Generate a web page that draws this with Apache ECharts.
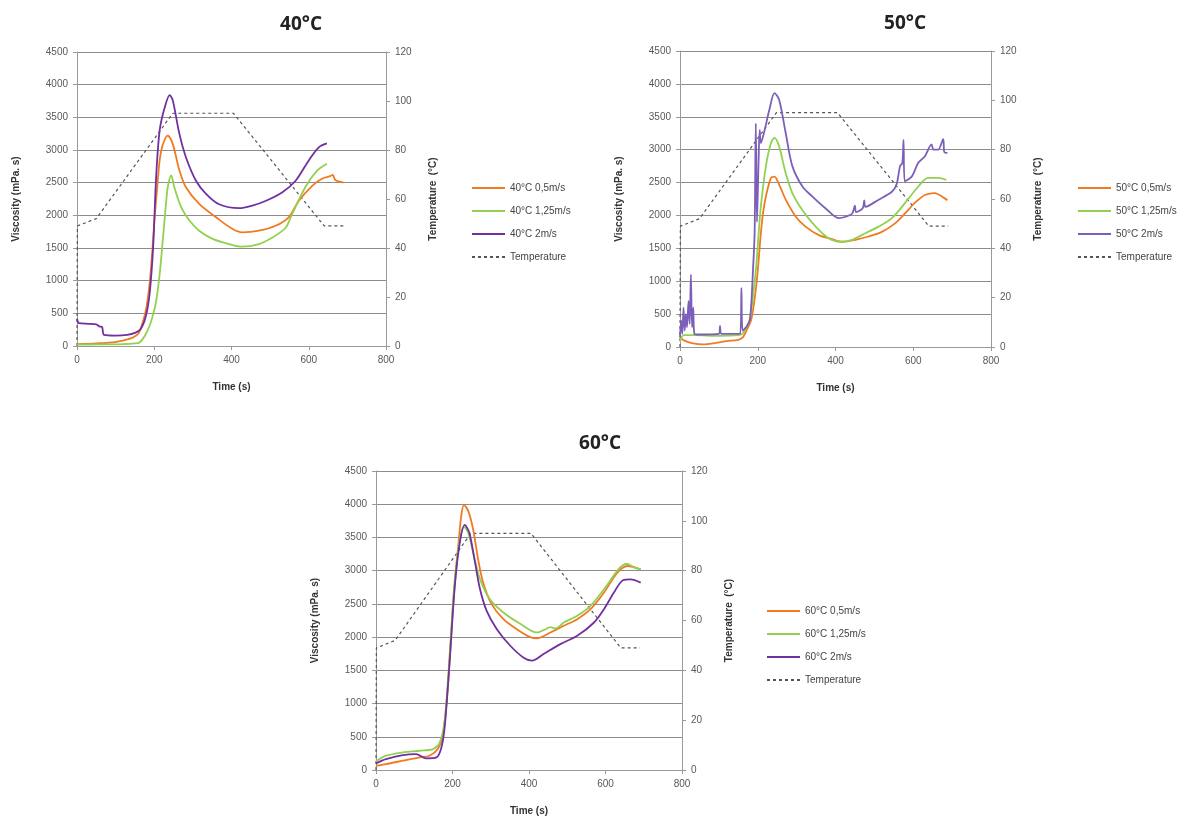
<!DOCTYPE html>
<html><head><meta charset="utf-8">
<script src="https://cdn.jsdelivr.net/npm/echarts@6/dist/echarts.min.js"></script>
<style>html,body{margin:0;padding:0;background:#fff}#c{width:1200px;height:823px}</style>
</head><body><div id="c"></div>
<script>
// ---- data: [time (s), value] ----
const temperatureProfile = [[0,0],[1,49],[50,52],[248,95],[405,95],[640,49],[690,49]];

const v40_05 = [[0,30],[50,40],[100,60],[130,100],[145,130],[160,200],[171,380],[180,600],[188,950],[195,1450],[201,1970],[208,2450],[214,2840],[222,3080],[235,3220],[248,3090],[265,2690],[282,2430],[317,2170],[360,1970],[403,1790],[428,1740],[471,1765],[514,1840],[548,1970],[574,2220],[609,2450],[634,2560],[655,2600],[662,2620],[669,2540],[690,2500]];
const v40_125 = [[0,20],[60,25],[120,30],[150,40],[162,55],[175,150],[188,310],[197,480],[205,690],[214,1100],[222,1610],[230,2150],[235,2430],[244,2610],[252,2430],[270,2120],[291,1920],[317,1760],[351,1640],[394,1560],[428,1520],[471,1560],[506,1660],[540,1810],[557,2020],[591,2430],[621,2680],[647,2790]];
const v40_2 = [[0,420],[5,350],[30,340],[50,330],[58,300],[65,290],[70,170],[100,160],[130,170],[150,200],[165,260],[178,450],[188,800],[197,1500],[205,2600],[214,3300],[227,3650],[240,3840],[248,3760],[265,3250],[282,2890],[308,2530],[334,2330],[368,2170],[420,2110],[454,2150],[488,2220],[531,2350],[566,2530],[600,2840],[626,3040],[647,3100]];

const v50_05 = [[0,150],[10,100],[30,60],[60,40],[90,60],[120,90],[150,110],[162,150],[175,300],[183,410],[190,650],[196,920],[202,1300],[208,1730],[214,2050],[221,2290],[234,2570],[243,2590],[255,2470],[272,2240],[298,1980],[323,1830],[357,1700],[391,1640],[417,1600],[451,1630],[485,1680],[519,1750],[553,1880],[579,2030],[604,2190],[630,2310],[655,2340],[681,2260],[688,2230]];
const v50_125 = [[0,80],[10,180],[40,180],[100,170],[150,180],[162,210],[179,410],[188,780],[196,1220],[202,1700],[208,2140],[221,2750],[234,3100],[243,3180],[255,3050],[272,2640],[289,2340],[315,2080],[349,1830],[383,1650],[413,1600],[443,1630],[477,1730],[511,1830],[545,1960],[579,2190],[613,2440],[638,2570],[664,2570],[685,2540]];
const v50_2 = [[0,150],[3,400],[6,200],[9,600],[12,250],[15,500],[18,300],[22,700],[25,350],[28,1100],[31,300],[34,600],[37,200],[45,190],[100,200],[103,320],[106,200],[155,200],[158,900],[161,250],[170,300],[180,420],[188,1200],[192,1750],[195,3400],[198,1900],[202,2800],[205,3300],[208,3100],[217,3280],[230,3610],[243,3860],[255,3760],[272,3250],[289,2750],[315,2440],[340,2290],[374,2110],[408,1960],[426,1980],[443,2030],[450,2150],[453,2050],[470,2110],[474,2230],[477,2130],[511,2240],[545,2360],[557,2470],[566,2750],[572,2800],[575,3150],[578,2520],[596,2590],[613,2800],[630,2900],[647,3080],[652,3000],[664,3000],[677,3160],[680,2960],[688,2950]];

const v60_05 = [[0,65],[26,90],[70,140],[114,190],[140,215],[162,320],[175,520],[188,1270],[202,2520],[215,3370],[223,3830],[230,3990],[241,3900],[254,3620],[267,3170],[280,2820],[302,2500],[333,2270],[368,2120],[403,2000],[421,1980],[456,2070],[491,2170],[526,2270],[561,2420],[596,2670],[631,2970],[657,3070],[692,3020]];
const v60_125 = [[0,130],[26,215],[70,265],[114,290],[149,315],[167,420],[180,770],[193,1770],[206,2870],[219,3470],[230,3660],[241,3570],[254,3270],[272,2870],[298,2570],[333,2370],[377,2200],[421,2070],[440,2110],[456,2150],[470,2130],[491,2220],[526,2320],[561,2470],[596,2720],[631,3000],[645,3080],[657,3100],[675,3050],[692,3020]];
const v60_2 = [[0,100],[26,165],[70,225],[105,240],[131,175],[158,190],[171,340],[180,670],[193,1670],[206,2770],[219,3420],[232,3690],[244,3570],[259,3120],[272,2720],[289,2400],[316,2120],[351,1870],[386,1690],[408,1645],[438,1745],[482,1895],[526,2020],[570,2220],[596,2420],[622,2670],[644,2850],[666,2870],[692,2820]];

const titles = ['40°C','50°C','60°C'];
const speedLabels = ['0,5m/s','1,25m/s','2m/s'];

// ---- layout / style ----
const grids = [
  {left:77, top:52, width:309, height:294},
  {left:680, top:51, width:311, height:296},
  {left:376, top:471, width:306, height:299}
];
const titlePos = [{x:296,y:10},{x:900,y:9},{x:595,y:429}];
const legendPos = [{left:466,top:178},{left:1072,top:178},{left:761,top:601}];
const colorSets = [
  ['#F07A22','#92D050','#7030A0'],
  ['#F07A22','#92D050','#7B5FB8'],
  ['#F07A22','#92D050','#7030A0']
];
const viscData = [[v40_05,v40_125,v40_2],[v50_05,v50_125,v50_2],[v60_05,v60_125,v60_2]];
const FONT = 'Liberation Sans';
const plain = v => String(v);

const option = {backgroundColor:'#fff', animation:false, title:[], legend:[], grid:[], xAxis:[], yAxis:[], series:[]};
for (let i=0;i<3;i++){
  const g = grids[i];
  option.grid.push(g);
  option.title.push({text:titles[i], left:titlePos[i].x, top:titlePos[i].y, textAlign:'center',
    textStyle:{fontFamily:'Open Sans', fontWeight:'bold', fontSize:19, color:'#222'}});
  option.xAxis.push({type:'value', gridIndex:i, min:0, max:800, interval:200,
    name:'Time (s)', nameLocation:'middle', nameGap:36,
    nameTextStyle:{fontFamily:FONT, fontWeight:'bold', fontSize:10, color:'#333'},
    axisLine:{show:true, lineStyle:{color:'#9a9a9a'}}, axisTick:{show:true, length:4, lineStyle:{color:'#9a9a9a'}},
    axisLabel:{fontFamily:FONT, fontSize:10, color:'#595959', margin:9, formatter:plain}, splitLine:{show:false}});
  option.yAxis.push({type:'value', gridIndex:i, min:0, max:4500, interval:500, position:'left',
    name:'Viscosity (mPa. s)', nameLocation:'middle', nameGap:56, nameRotate:90,
    nameTextStyle:{fontFamily:FONT, fontWeight:'bold', fontSize:10, color:'#333'},
    axisLine:{show:true, lineStyle:{color:'#9a9a9a'}}, axisTick:{show:true, length:4, lineStyle:{color:'#9a9a9a'}},
    axisLabel:{fontFamily:FONT, fontSize:10, color:'#595959', margin:9, formatter:plain},
    splitLine:{show:true, lineStyle:{color:'#8c8c8c', width:1}}});
  option.yAxis.push({type:'value', gridIndex:i, min:0, max:120, interval:20, position:'right',
    name:'Temperature  (°C)', nameLocation:'middle', nameGap:42, nameRotate:90,
    nameTextStyle:{fontFamily:FONT, fontWeight:'bold', fontSize:10, color:'#333'},
    axisLine:{show:true, lineStyle:{color:'#9a9a9a'}}, axisTick:{show:true, length:4, lineStyle:{color:'#9a9a9a'}},
    axisLabel:{fontFamily:FONT, fontSize:10, color:'#595959', margin:9, formatter:plain}, splitLine:{show:false}});
  const names = [];
  for (let k=0;k<3;k++){
    const nm = titles[i]+' '+speedLabels[k];
    names.push(nm);
    option.series.push({type:'line', name:nm, xAxisIndex:i, yAxisIndex:2*i, data:viscData[i][k],
      showSymbol:false, symbol:'none', smooth:0.3, color:colorSets[i][k],
      lineStyle:{width:1.8, color:colorSets[i][k]}, z:3+k});
  }
  names.push('Temperature');
  option.series.push({type:'line', name:'Temperature', xAxisIndex:i, yAxisIndex:2*i+1, data:temperatureProfile,
    showSymbol:false, symbol:'none', color:'#555',
    lineStyle:{width:1.2, type:[3,3], color:'#555'}, z:2});
  option.legend.push({orient:'vertical', left:legendPos[i].left, top:legendPos[i].top, data:names,
    itemWidth:33, itemHeight:12, itemGap:13, selectedMode:false,
    itemStyle:{color:'rgba(0,0,0,0)', borderColor:'rgba(0,0,0,0)', borderWidth:0, opacity:0},
    textStyle:{fontFamily:FONT, fontSize:10, color:'#444'}});
}
const chart = echarts.init(document.getElementById('c'), null, {renderer:'canvas'});
chart.setOption(option);
</script></body></html>
